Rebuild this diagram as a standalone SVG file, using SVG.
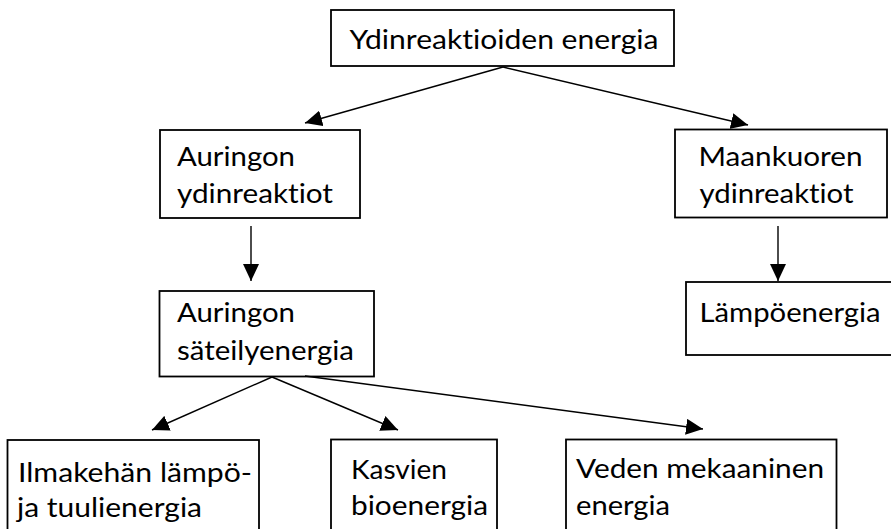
<svg xmlns="http://www.w3.org/2000/svg" width="891" height="529" viewBox="0 0 891 529">
<style>
.box{fill:#fff;stroke:#000;stroke-width:1.8}
.lbl{font-family:Lato,"Open Sans","Liberation Sans",sans-serif;font-size:27.5px;fill:#000;font-variant-ligatures:none;font-feature-settings:"liga" 0,"clig" 0}
.conn{stroke:#000;stroke-width:1.4;fill:none;marker-end:url(#ah)}
</style>
<defs>
<marker id="ah" markerUnits="userSpaceOnUse" markerWidth="18" markerHeight="16" refX="17" refY="8" orient="auto">
<path d="M0,0 L17,8 L0,16 z" fill="#000"/>
</marker>
</defs>
<rect width="891" height="529" fill="#fff"/>
<g id="n-ydin">
<rect class="box" x="331" y="10" width="343" height="56"/>
<text class="lbl" x="349.5" y="49" textLength="309" lengthAdjust="spacingAndGlyphs">Ydinreaktioiden energia</text>
</g>
<g id="n-aur-ydin">
<rect class="box" x="160" y="130" width="200" height="88"/>
<text class="lbl" x="177" y="166" textLength="118" lengthAdjust="spacingAndGlyphs">Auringon</text>
<text class="lbl" x="177" y="203" textLength="156" lengthAdjust="spacingAndGlyphs">ydinreaktiot</text>
</g>
<g id="n-maan">
<rect class="box" x="675" y="129.5" width="212" height="88"/>
<text class="lbl" x="698.5" y="166" textLength="164" lengthAdjust="spacingAndGlyphs">Maankuoren</text>
<text class="lbl" x="699.5" y="203" textLength="154" lengthAdjust="spacingAndGlyphs">ydinreaktiot</text>
</g>
<g id="n-lampo">
<rect class="box" x="686" y="282" width="220" height="73"/>
<text class="lbl" x="699.5" y="322" textLength="181" lengthAdjust="spacingAndGlyphs">Lämpöenergia</text>
</g>
<g id="n-sateily">
<rect class="box" x="159.5" y="291" width="214.5" height="85.5"/>
<text class="lbl" x="177" y="322" textLength="118" lengthAdjust="spacingAndGlyphs">Auringon</text>
<text class="lbl" x="177" y="360" textLength="177" lengthAdjust="spacingAndGlyphs">säteilyenergia</text>
</g>
<g id="n-ilma">
<rect class="box" x="7.5" y="440" width="251.5" height="100"/>
<text class="lbl" x="18" y="482" textLength="234" lengthAdjust="spacingAndGlyphs">Ilmakehän lämpö-</text>
<text class="lbl" x="17" y="517" textLength="185" lengthAdjust="spacingAndGlyphs">ja tuulienergia</text>
</g>
<g id="n-kasvi">
<rect class="box" x="331" y="439.5" width="166" height="100"/>
<text class="lbl" x="351" y="478.5" textLength="96" lengthAdjust="spacingAndGlyphs">Kasvien</text>
<text class="lbl" x="351" y="515" textLength="137" lengthAdjust="spacingAndGlyphs">bioenergia</text>
</g>
<g id="n-veden">
<rect class="box" x="566" y="439.5" width="270.5" height="100"/>
<text class="lbl" x="576" y="478" textLength="248" lengthAdjust="spacingAndGlyphs">Veden mekaaninen</text>
<text class="lbl" x="576" y="515" textLength="94" lengthAdjust="spacingAndGlyphs">energia</text>
</g>
<g id="connectors">
<line class="conn" x1="503" y1="67" x2="305" y2="123"/>
<line class="conn" x1="503" y1="67" x2="748" y2="125"/>
<line class="conn" x1="251" y1="226" x2="251" y2="281"/>
<line class="conn" x1="778" y1="226" x2="778" y2="281"/>
<line class="conn" x1="272" y1="377" x2="152" y2="430"/>
<line class="conn" x1="272" y1="377" x2="398" y2="430"/>
<line class="conn" x1="305" y1="376" x2="703" y2="429"/>
</g>
</svg>
